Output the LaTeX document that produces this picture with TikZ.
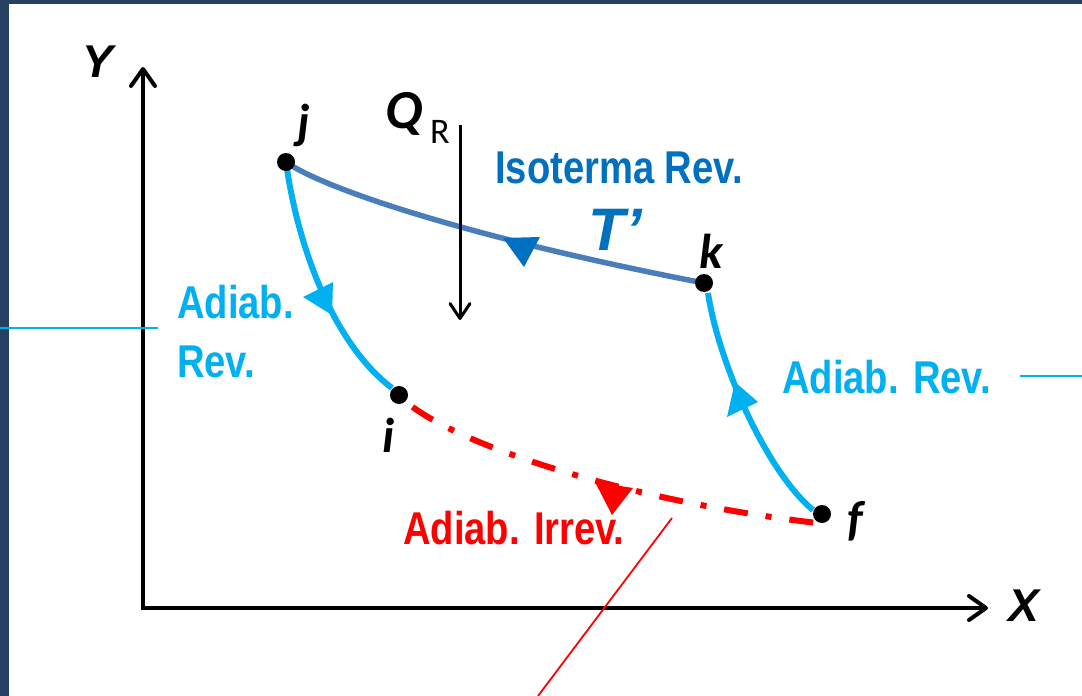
\documentclass[tikz,border=0pt]{standalone}
\usepackage{fontspec}
\usetikzlibrary{arrows.meta}
\newfontfamily\narrowsans[FakeStretch=0.83]{Liberation Sans}
\newfontfamily\arialf{Liberation Sans}
\newfontfamily\carlf{Carlito}
\definecolor{framecol}{HTML}{254061}
\definecolor{isoblue}{HTML}{4A7EBB}
\definecolor{darkblue}{HTML}{0070C0}
\definecolor{cyanad}{HTML}{00B0F0}
\definecolor{redirr}{HTML}{FF0000}
\begin{document}
\begin{tikzpicture}[x=1pt,y=-1pt,
  axis/.style={line width=4pt,-{Straight Barb[length=17pt,width=24pt,round]}},
  qarrow/.style={line width=3pt,-{Straight Barb[length=15pt,width=20pt,round]}},
  ptdot/.style={circle,fill=black,inner sep=0pt,minimum size=18pt},
  ptlab/.style={inner sep=0pt,font=\carlf\bfseries\itshape\fontsize{49}{52}\selectfont},
  axlab/.style={inner sep=0pt,font=\arialf\bfseries\itshape\fontsize{46}{50}\selectfont},
  proclab/.style={inner sep=0pt,anchor=base west,font=\narrowsans\bfseries\fontsize{46}{50}\selectfont},
  isocurve/.style={isoblue,line width=5.5pt},
  adcurve/.style={cyanad,line width=6pt},
  irrcurve/.style={redirr,line width=6pt,dash pattern=on 24pt off 18pt on 6pt off 18pt,dash phase=48pt},
  leader/.style={line width=1.8pt}
]
\useasboundingbox (0,0) rectangle (1082,696);
\fill[white] (0,0) rectangle (1082,696);
\fill[framecol] (0,0) rectangle (9,696);
\fill[framecol] (0,0) rectangle (1082,4);

% axes
\coordinate (o) at (143,608);
\coordinate (ytip) at (143,67);
\coordinate (xtip) at (988,608);
\draw[axis] ([yshift=2pt]o) -- (ytip);
\draw[axis] ([xshift=-2pt]o) -- (xtip);
\node[axlab] (ylab) at (97.5,61.5) {Y};
\node[axlab] (xlab) at (1023.5,606) {X};

% state points
\coordinate (j) at (286,162);
\coordinate (k) at (704,283);
\coordinate (i) at (399,395);
\coordinate (f) at (822,514);

% curves
\draw[isocurve] (j) .. controls (325,190) and (480,240) .. (k);
\draw[adcurve] (j) .. controls (298,250) and (335,345) .. (392,388);
\draw[adcurve] (813,510) .. controls (765,470) and (718,360) .. (708,293);
\draw[irrcurve] (i) .. controls (440,440) and (620,500) .. (817,523);

% direction triangles
\fill[darkblue] (503,238) -- (540,237) -- (524,267) -- cycle;
\fill[cyanad] (303,297) -- (333,282) -- (332,315) -- cycle;
\fill[cyanad] (727,417) -- (758,402) -- (735,382) -- cycle;
\fill[redirr] (595,482) -- (633,488) -- (612,515) -- cycle;

% dots
\node[ptdot] (jd) at (j) {};
\node[ptdot] (kd) at (k) {};
\node[ptdot] (id) at (i) {};
\node[ptdot] (fd) at (f) {};

\node[ptlab] (jl) at (304,125.5) {j};
\node[ptlab] (kl) at (711,251) {k};
\node[ptlab] (il) at (389,435) {i};
\node[ptlab] (fl) at (855,521) {f};

% heat arrow
\coordinate (qtop) at (460,125);
\coordinate (qbot) at (460,320);
\draw[qarrow] (qtop) -- (qbot);
\node[inner sep=0pt,font=\carlf\bfseries\itshape\fontsize{55}{58}\selectfont] (Q) at (404,113.5) {Q};
\node[inner sep=0pt,font=\carlf\fontsize{36}{40}\selectfont] (R) at (440,131.5) {R};

% labels
\node[proclab,text=darkblue] (iso) at (495,183) {Isoterma Rev.};
\node[inner sep=0pt,text=darkblue,font=\arialf\bfseries\itshape\fontsize{60}{64}\selectfont] (T) at (615,230) {T’};
\node[proclab,text=cyanad] (adl1) at (177,318) {Adiab.};
\node[proclab,text=cyanad] (adl2) at (177,377) {Rev.};
\node[proclab,text=cyanad] (adr) at (782,393) {Adiab. Rev.};
\node[proclab,text=redirr] (irr) at (403,544) {Adiab. Irrev.};

% leader lines
\coordinate (ll0) at (0,328);
\coordinate (ll1) at (158,328);
\draw[leader,cyanad] (ll0) -- (ll1);
\coordinate (rl0) at (1020,376);
\coordinate (rl1) at (1082,376);
\draw[leader,cyanad] (rl0) -- (rl1);
\coordinate (red0) at (672,518);
\coordinate (red1) at (538,696);
\draw[leader,redirr] (red0) -- (red1);
\end{tikzpicture}
\end{document}
